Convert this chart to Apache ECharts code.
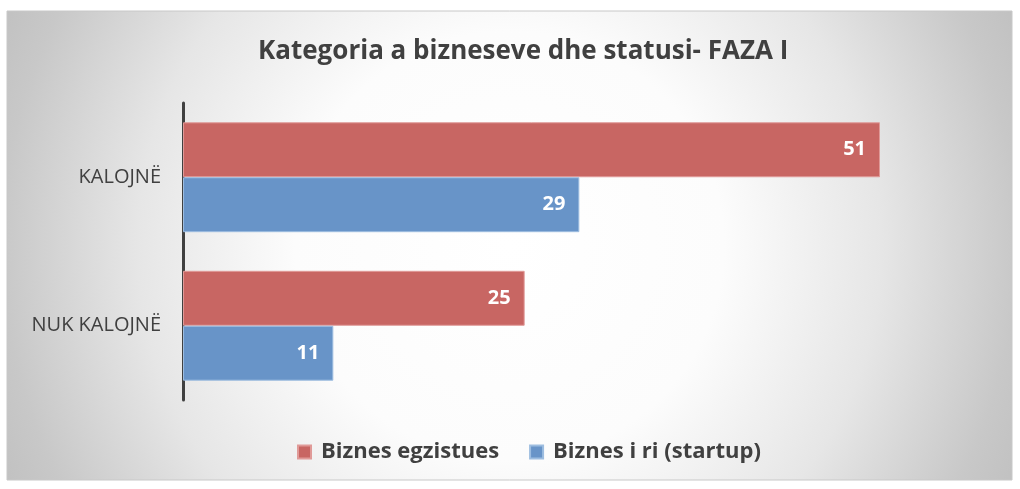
<!DOCTYPE html>
<html>
<head>
<meta charset="utf-8">
<script src="https://cdn.jsdelivr.net/npm/echarts@6/dist/echarts.min.js"></script>
<style>
  html, body { margin: 0; padding: 0; background: #fff; }
  #main { width: 1020px; height: 489px; }
</style>
</head>
<body>
<div id="main"></div>
<script>
var categories = ['KALOJNË', 'NUK KALOJNË'];
var seriesNames = ['Biznes egzistues', 'Biznes i ri (startup)'];
var existingValues = [51, 25];
var startupValues = [29, 11];

var chart = echarts.init(document.getElementById('main'));
var font = '"Open Sans", "Noto Sans", sans-serif';

var option = {
    backgroundColor: '#ffffff',
    animation: false,
    graphic: [{
        type: 'rect',
        z: -10,
        silent: true,
        shape: { x: 7, y: 11, width: 1005, height: 469 },
        style: {
            fill: new echarts.graphic.RadialGradient(0.5, 0.5, 1.2, [
                { offset: 0, color: '#ffffff' },
                { offset: 0.38, color: '#fcfcfc' },
                { offset: 0.66, color: '#e6e6e6' },
                { offset: 0.9, color: '#c8c8c8' },
                { offset: 1, color: '#c0c0c0' }
            ]),
            stroke: '#c8c8c8',
            lineWidth: 1
        }
    }],
    title: {
        text: 'Kategoria a bizneseve dhe statusi- FAZA I',
        left: 253,
        top: 34,
        textStyle: { fontFamily: font, fontSize: 26, fontWeight: 'bold', color: '#404040' }
    },
    legend: {
        data: seriesNames,
        bottom: 21,
        left: 292,
        itemWidth: 13,
        itemHeight: 13,
        itemGap: 30,
        icon: 'rect',
        textStyle: {
            fontFamily: font, fontSize: 22, fontWeight: 'bold', color: '#404040',
            padding: [0, 0, 0, 5]
        }
    },
    grid: { left: 183, right: 17, top: 103, bottom: 89, containLabel: false },
    xAxis: {
        type: 'value',
        min: 0,
        max: 60,
        axisLabel: { show: false },
        axisLine: { show: false },
        axisTick: { show: false },
        splitLine: { show: false }
    },
    yAxis: {
        type: 'category',
        data: categories,
        inverse: true,
        axisLine: { show: true, lineStyle: { color: '#404040', width: 3 } },
        axisTick: { show: false },
        axisLabel: { fontFamily: font, fontSize: 20, color: '#404040', margin: 22 }
    },
    series: [
        {
            name: seriesNames[0],
            type: 'bar',
            data: existingValues,
            barGap: '0%',
            barCategoryGap: '26%',
            itemStyle: { color: '#c86663', borderColor: '#e09a98', borderWidth: 1 },
            label: {
                show: true, position: 'insideRight', distance: 14,
                fontFamily: font, fontSize: 20, fontWeight: 'bold', color: '#ffffff'
            }
        },
        {
            name: seriesNames[1],
            type: 'bar',
            data: startupValues,
            barGap: '0%',
            barCategoryGap: '26%',
            itemStyle: { color: '#6894c8', borderColor: '#9dbde0', borderWidth: 1 },
            label: {
                show: true, position: 'insideRight', distance: 14,
                fontFamily: font, fontSize: 20, fontWeight: 'bold', color: '#ffffff'
            }
        }
    ]
};

chart.setOption(option);
</script>
</body>
</html>
